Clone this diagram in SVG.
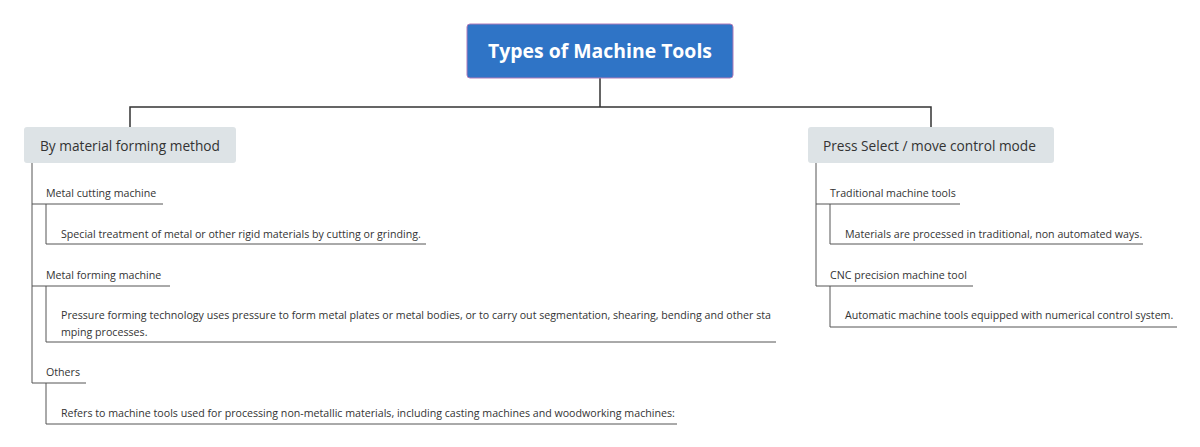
<svg xmlns="http://www.w3.org/2000/svg" width="1200" height="447" viewBox="0 0 1200 447">
<style>
.bg{fill:#ffffff}
.main{fill:none;stroke:#333333;stroke-width:1.5}
.sub{fill:none;stroke:#555555;stroke-width:1}
.root{fill:#2f74c6;stroke:#b07ab8;stroke-width:1}
.topic{fill:#dde3e6}
.t-root{font-family:"Open Sans","Noto Sans",sans-serif;font-weight:bold;font-size:19.4px;fill:#ffffff}
.t-topic{font-family:"Open Sans","Noto Sans",sans-serif;font-size:13.7px;fill:#333333}
.t-sub{font-family:"Open Sans","Noto Sans",sans-serif;font-size:10.65px;fill:#333333}
</style>
<rect class="bg" x="0" y="0" width="1200" height="447"/>
<g id="connectors">
<path class="main" d="M600,78 V107 M130,107 H931 M130,106.25 V127 M931,106.25 V127"/>
<path class="sub" d="M32,163 V383 M32,204 H163 M32,286 H170 M32,383 H86"/>
<path class="sub" d="M46,204 V244 H426 M46,286 V342 H776 M46,383 V424 H677"/>
<path class="sub" d="M816,163 V286 M816,204 H960 M816,286 H973"/>
<path class="sub" d="M830,204 V244 H1143 M830,286 V327 H1177"/>
</g>
<g id="root">
<rect class="root" x="467" y="24" width="266" height="54" rx="3"/>
<text class="t-root" x="600" y="58" text-anchor="middle">Types of Machine Tools</text>
</g>
<g id="topic-left">
<rect class="topic" x="24" y="127" width="212" height="36" rx="3"/>
<text class="t-topic" x="40" y="151">By material forming method</text>
</g>
<g id="topic-right">
<rect class="topic" x="808" y="127" width="246" height="36" rx="3"/>
<text class="t-topic" x="823" y="151">Press Select / move control mode</text>
</g>
<g id="metal-cutting">
<text class="t-sub" x="46" y="197">Metal cutting machine</text>
</g>
<g id="metal-cutting-desc">
<text class="t-sub" x="61" y="238">Special treatment of metal or other rigid materials by cutting or grinding.</text>
</g>
<g id="metal-forming">
<text class="t-sub" x="46" y="279">Metal forming machine</text>
</g>
<g id="metal-forming-desc">
<text class="t-sub" x="61" y="319">Pressure forming technology uses pressure to form metal plates or metal bodies, or to carry out segmentation, shearing, bending and other sta</text>
<text class="t-sub" x="61" y="336">mping processes.</text>
</g>
<g id="others">
<text class="t-sub" x="46" y="376">Others</text>
</g>
<g id="others-desc">
<text class="t-sub" x="61" y="417">Refers to machine tools used for processing non-metallic materials, including casting machines and woodworking machines:</text>
</g>
<g id="traditional">
<text class="t-sub" x="830" y="197">Traditional machine tools</text>
</g>
<g id="traditional-desc">
<text class="t-sub" x="845" y="238">Materials are processed in traditional, non automated ways.</text>
</g>
<g id="cnc">
<text class="t-sub" x="830" y="279">CNC precision machine tool</text>
</g>
<g id="cnc-desc">
<text class="t-sub" x="845" y="319">Automatic machine tools equipped with numerical control system.</text>
</g>
</svg>
